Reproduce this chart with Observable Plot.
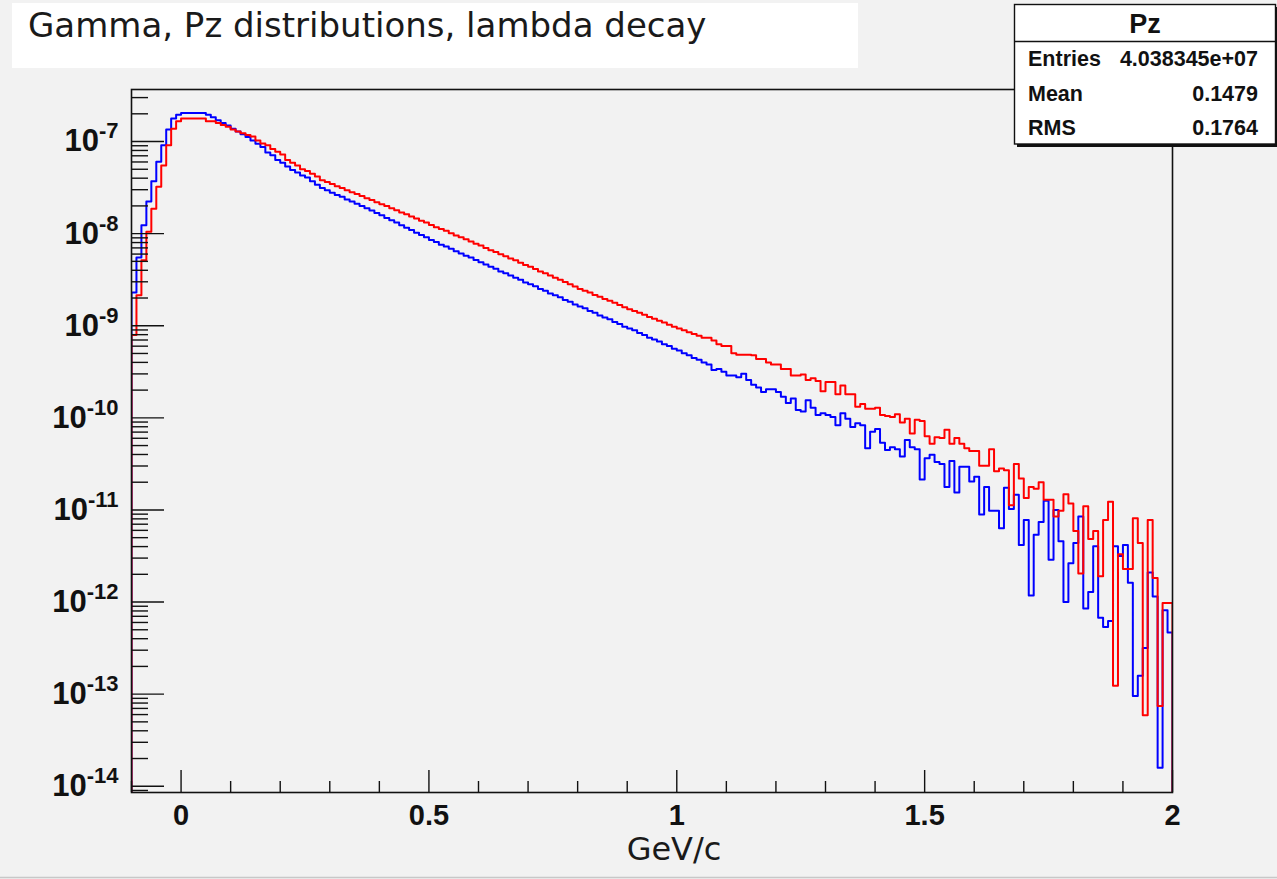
<!DOCTYPE html>
<html><head><meta charset="utf-8">
<script src="https://cdn.jsdelivr.net/npm/d3@7"></script>
<script src="https://cdn.jsdelivr.net/npm/@observablehq/plot@0.6"></script>
<style>
html,body{margin:0;padding:0;background:#f2f2f2;}
#chart{width:1277px;height:879px;}
</style></head><body><div id="chart"></div>
<script>
// Histogram binning: 210 bins of 0.01 GeV/c from -0.1 to 2.0
const binLow = -0.1;
const binWidth = 0.01;
// log10 of bin contents (blue histogram)
const blueExp = [
-8.64,-8.26,-7.91,-7.65,-7.43,-7.22,-7.04,-6.87,-6.75,-6.71,
-6.69,-6.69,-6.69,-6.69,-6.69,-6.71,-6.735,-6.77,-6.80,-6.825,
-6.86,-6.89,-6.92,-6.95,-6.99,-7.025,-7.06,-7.12,-7.15,-7.20,
-7.23,-7.27,-7.31,-7.335,-7.37,-7.39,-7.43,-7.47,-7.505,-7.53,
-7.555,-7.58,-7.60,-7.63,-7.65,-7.675,-7.70,-7.725,-7.75,-7.775,
-7.80,-7.83,-7.855,-7.88,-7.91,-7.935,-7.96,-7.99,-8.015,-8.04,
-8.07,-8.09,-8.12,-8.14,-8.165,-8.19,-8.215,-8.24,-8.26,-8.285,
-8.31,-8.335,-8.36,-8.38,-8.41,-8.43,-8.455,-8.48,-8.50,-8.53,
-8.55,-8.57,-8.60,-8.62,-8.65,-8.67,-8.69,-8.72,-8.74,-8.77,
-8.79,-8.81,-8.84,-8.86,-8.89,-8.91,-8.93,-8.96,-8.98,-9.01,
-9.03,-9.05,-9.08,-9.10,-9.13,-9.15,-9.17,-9.20,-9.22,-9.25,
-9.27,-9.30,-9.32,-9.35,-9.37,-9.40,-9.42,-9.48,-9.47,-9.50,
-9.54,-9.54,-9.56,-9.52,-9.59,-9.64,-9.67,-9.72,-9.69,-9.69,
-9.72,-9.77,-9.84,-9.79,-9.915,-9.93,-9.81,-9.89,-9.97,-9.95,
-9.97,-9.99,-10.08,-9.95,-10.01,-10.10,-10.06,-10.08,-10.33,-10.15,
-10.12,-10.27,-10.35,-10.32,-10.34,-10.42,-10.24,-10.32,-10.34,-10.67,
-10.44,-10.40,-10.48,-10.50,-10.75,-10.47,-10.81,-10.53,-10.53,-10.69,
-10.64,-11.05,-10.75,-11.01,-11.01,-11.20,-10.76,-10.99,-10.835,-11.38,
-11.11,-11.93,-11.27,-11.13,-10.90,-11.54,-11.00,-11.34,-12.00,-11.58,
-11.36,-11.07,-12.07,-11.89,-11.395,-12.17,-12.27,-12.205,-11.395,-11.50,
-11.38,-11.79,-13.02,-12.80,-12.50,-11.68,-11.94,-13.80,-12.09,-12.33
];
// log10 of bin contents (red histogram)
const redExp = [
-9.10,-8.67,-8.29,-7.98,-7.73,-7.49,-7.26,-7.04,-6.86,-6.78,
-6.75,-6.75,-6.75,-6.75,-6.75,-6.78,-6.78,-6.80,-6.82,-6.84,
-6.87,-6.89,-6.91,-6.93,-6.945,-6.99,-7.02,-7.04,-7.08,-7.11,
-7.14,-7.20,-7.23,-7.26,-7.30,-7.32,-7.35,-7.38,-7.42,-7.44,
-7.46,-7.485,-7.505,-7.53,-7.55,-7.57,-7.59,-7.615,-7.635,-7.66,
-7.68,-7.70,-7.725,-7.745,-7.77,-7.79,-7.815,-7.835,-7.86,-7.88,
-7.905,-7.93,-7.95,-7.97,-7.995,-8.02,-8.04,-8.06,-8.085,-8.11,
-8.13,-8.155,-8.18,-8.20,-8.225,-8.245,-8.27,-8.29,-8.315,-8.34,
-8.36,-8.385,-8.41,-8.43,-8.455,-8.48,-8.50,-8.525,-8.55,-8.575,
-8.60,-8.62,-8.64,-8.665,-8.685,-8.71,-8.73,-8.75,-8.775,-8.80,
-8.82,-8.84,-8.86,-8.88,-8.905,-8.925,-8.945,-8.965,-8.99,-9.01,
-9.03,-9.05,-9.07,-9.09,-9.11,-9.13,-9.13,-9.16,-9.20,-9.22,
-9.22,-9.30,-9.315,-9.315,-9.315,-9.32,-9.36,-9.36,-9.40,-9.42,
-9.42,-9.47,-9.47,-9.54,-9.54,-9.53,-9.59,-9.57,-9.60,-9.71,
-9.61,-9.61,-9.745,-9.65,-9.745,-9.745,-9.88,-9.85,-9.90,-9.90,
-9.89,-9.97,-9.98,-9.99,-9.96,-10.05,-10.01,-10.17,-10.02,-10.035,
-10.20,-10.28,-10.21,-10.22,-10.13,-10.28,-10.22,-10.28,-10.33,-10.36,
-10.36,-10.52,-10.52,-10.34,-10.58,-10.55,-10.57,-10.95,-10.50,-10.66,
-10.87,-10.75,-10.77,-10.70,-10.89,-10.89,-11.07,-11.01,-10.83,-10.93,
-11.23,-11.69,-10.96,-11.315,-11.23,-11.72,-11.11,-10.91,-12.91,-11.48,
-11.64,-11.64,-11.09,-11.36,-13.23,-11.11,-11.74,-13.13,-12.01,-12.01
];
const xMajorTicks = [0, 0.5, 1, 1.5, 2];
const xTickLabels = ["0", "0.5", "1", "1.5", "2"];
const yDecades = [-7, -8, -9, -10, -11, -12, -13, -14];
const titleText = "Gamma, Pz distributions, lambda decay";
const xTitle = "GeV/c";
const statsName = "Pz";
const statsLabels = ["Entries", "Mean", "RMS"];
const statsValues = ["4.038345e+07", "0.1479", "0.1764"];

const yMin = Math.pow(10, -14.068), yMax = Math.pow(10, -6.435);

function stepRows(exps) {
  const rows = [{x: binLow, y: yMin}];
  exps.forEach((e, i) => {
    const x0 = binLow + i * binWidth, v = Math.pow(10, e);
    rows.push({x: x0, y: v}, {x: x0 + binWidth, y: v});
  });
  rows.push({x: binLow + exps.length * binWidth, y: yMin});
  return rows;
}
const blueRows = stepRows(blueExp);
const redRows = stepRows(redExp);

const majorY = yDecades.map(e => Math.pow(10, e));
const minorY = [];
for (let e = -15; e <= -7; e++) for (let m = 2; m <= 9; m++) {
  const v = m * Math.pow(10, e);
  if (v >= yMin && v <= yMax) minorY.push(v);
}
const minorX = d3.range(-1, 21).filter(i => i % 5 !== 0).map(i => i / 10);

const W = 1277, H = 879, mL = 131, mR = 105, mT = 89, mB = 87;
const pw = W - mL - mR, ph = H - mT - mB;

const plot = Plot.plot({
  width: W, height: H,
  marginLeft: mL, marginRight: mR, marginTop: mT, marginBottom: mB,
  style: {background: "#f2f2f2", fontFamily: "'Liberation Sans', Arial, sans-serif"},
  x: {domain: [-0.1, 2]},
  y: {type: "log", domain: [yMin, yMax]},
  marks: [
    Plot.line(blueRows, {x: "x", y: "y", stroke: "#0000ff", strokeWidth: 2, clip: true}),
    Plot.line(redRows, {x: "x", y: "y", stroke: "#ff0000", strokeWidth: 2, clip: true}),
    Plot.tickY(minorY, {y: d => d, insetRight: pw - 17, stroke: "#111", strokeWidth: 1.4}),
    Plot.tickY(majorY, {y: d => d, insetRight: pw - 33, stroke: "#111", strokeWidth: 1.4}),
    Plot.tickX(minorX, {x: d => d, insetTop: ph - 11, stroke: "#111", strokeWidth: 1.4}),
    Plot.tickX(xMajorTicks, {x: d => d, insetTop: ph - 22, stroke: "#111", strokeWidth: 1.4}),
    Plot.frame({stroke: "#111", strokeWidth: 1.6}),
    Plot.axisX({ticks: xMajorTicks, tickFormat: d => xTickLabels[xMajorTicks.indexOf(d)], tickSize: 0, tickPadding: 12,
      fontSize: 29, fontWeight: "bold", label: null}),
    Plot.axisY({ticks: majorY, tickFormat: d => String(Math.round(Math.log10(d))), tickSize: 0, tickPadding: 13,
      fontSize: 31, fontWeight: "bold", label: null}),
    Plot.text([xTitle], {text: d => d, frameAnchor: "bottom", dx: 22, dy: 67, fontSize: 32,
      fontFamily: "'DejaVu Sans', sans-serif", fill: "#1a1a1a"})
  ]
});
document.getElementById("chart").appendChild(plot);

const svg = d3.select(plot);
svg.selectAll('g[aria-label="x-axis tick label"], g[aria-label="y-axis tick label"]').attr("fill", "#111");
// superscript exponents on y labels
svg.selectAll('g[aria-label="y-axis tick label"] text').each(function() {
  const t = d3.select(this);
  const exp = t.text();
  t.text(null);
  t.append("tspan").text("10");
  t.append("tspan").attr("dy", -13).attr("font-size", 22).text(exp);
});

const sans = "'Liberation Sans', Arial, sans-serif";
// Title box
svg.append("rect").attr("x", 12).attr("y", 3).attr("width", 846).attr("height", 65).attr("fill", "#ffffff");
svg.append("text").attr("x", 28).attr("y", 37).attr("text-anchor", "start")
  .attr("font-family", "'DejaVu Sans', sans-serif")
  .attr("font-size", 34).attr("fill", "#1a1a1a").text(titleText);

// Stats box
svg.append("rect").attr("x", 1017).attr("y", 7).attr("width", 262).attr("height", 140).attr("fill", "#111");
svg.append("rect").attr("x", 1014.5).attr("y", 4.5).attr("width", 261).attr("height", 139.5)
  .attr("fill", "#ffffff").attr("stroke", "#111").attr("stroke-width", 1.4);
svg.append("line").attr("x1", 1014.5).attr("x2", 1275.5).attr("y1", 41.5).attr("y2", 41.5)
  .attr("stroke", "#111").attr("stroke-width", 1.4);
svg.append("text").attr("x", 1145).attr("y", 33).attr("text-anchor", "middle")
  .attr("font-family", sans).attr("font-weight", "bold").attr("font-size", 27)
  .attr("fill", "#111").text(statsName);
const rowY = [66, 101, 135];
statsLabels.forEach((lab, i) => {
  svg.append("text").attr("x", 1028).attr("y", rowY[i]).attr("text-anchor", "start")
    .attr("font-family", sans)
    .attr("font-weight", "bold").attr("font-size", 21.5).attr("fill", "#111").text(lab);
  svg.append("text").attr("x", 1258).attr("y", rowY[i]).attr("text-anchor", "end")
    .attr("font-family", sans)
    .attr("font-weight", "bold").attr("font-size", 21.5).attr("fill", "#111").text(statsValues[i]);
});
// canvas bottom edge
svg.append("line").attr("x1", 0).attr("x2", W).attr("y1", 877.5).attr("y2", 877.5).attr("stroke", "#c8c8c8").attr("stroke-width", 1.5);
</script>
</body></html>
